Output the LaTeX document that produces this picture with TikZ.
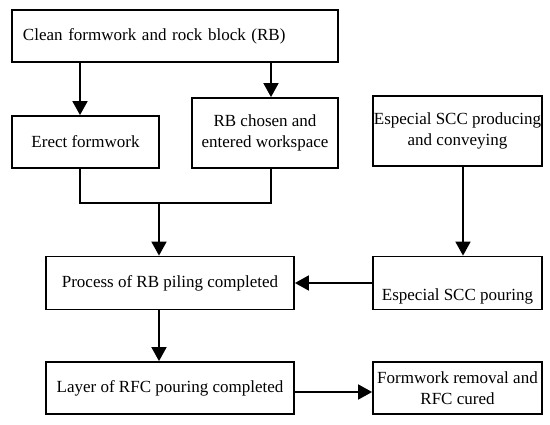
\documentclass[tikz,border=0pt]{standalone}
\usepackage{fontspec}
\setmainfont{Liberation Serif}
\usetikzlibrary{arrows.meta, positioning}

\begin{document}
\begin{tikzpicture}[
  x=1pt, y=-1pt,
  every node/.style={draw, line width=1.8pt, inner sep=1pt, align=center,
    font=\fontsize{17}{21}\selectfont},
  arr/.style={-{Triangle[length=14pt, width=15pt]}, line width=1.8pt},
  line/.style={line width=1.8pt}
]
\useasboundingbox (0,0) rectangle (550,424);

% Top row
\node[minimum width=326pt, minimum height=52pt, text width=304pt, align=left] (clean) at (175,36) {Clean formwork and rock block (RB)};
\node[minimum width=147pt, minimum height=52pt] (erect) at (85.5,142) {Erect formwork};
\node[minimum width=146pt, minimum height=70pt] (chosen) at (265,133) {RB chosen and\\entered workspace};
\node[minimum width=169pt, minimum height=70pt] (scc) at (457.5,131) {Especial SCC producing\\and conveying};

% Middle row
\node[minimum width=248pt, minimum height=53pt] (piling) at (170,283) {Process of RB piling completed};
\node[minimum width=169pt, minimum height=53pt, text height=40pt, text depth=5pt] (pouring) at (457.5,283) {Especial SCC pouring};

% Bottom row
\node[minimum width=248pt, minimum height=52pt] (layer) at (170,388) {Layer of RFC pouring completed};
\node[minimum width=169pt, minimum height=52pt] (removal) at (457.5,388) {Formwork removal and\\RFC cured};

\coordinate (merge) at (159,203);

% Arrows
\draw[arr] ([xshift=-5.5pt]erect.north |- clean.south) -- ([xshift=-5.5pt]erect.north);
\draw[arr] ([xshift=6pt]chosen.north |- clean.south) -- ([xshift=6pt]chosen.north);
\draw[line] ([xshift=-5.5pt]erect.south) |- (merge) -| ([xshift=6pt]chosen.south);
\draw[arr] (merge) -- (merge |- piling.north);
\draw[arr] ([xshift=5.5pt]scc.south) -- ([xshift=5.5pt]pouring.north);
\draw[arr] (pouring.west |- piling.east) -- (piling.east);
\draw[arr] (merge |- piling.south) -- (merge |- layer.north);
\draw[arr] ([yshift=-4pt]layer.east) -- ([yshift=-4pt]removal.west);

\end{tikzpicture}
\end{document}
